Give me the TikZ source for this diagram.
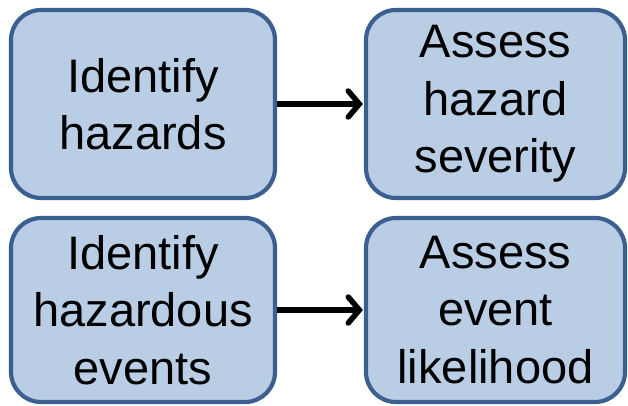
\documentclass[tikz,border=0pt]{standalone}
\usepackage{fontspec}
\setmainfont{Liberation Sans}
\usetikzlibrary{arrows.meta}
\definecolor{boxfill}{HTML}{B9CDE5}
\definecolor{boxline}{HTML}{3B5F8F}
\begin{document}
\begin{tikzpicture}[x=1pt,y=-1pt]
	\tikzstyle{every node}+=[inner sep=0pt]
	\tikzstyle{stepbox}=[draw=boxline, fill=boxfill, line width=4.2pt, rounded corners=30pt, align=center, font=\fontsize{47}{57.5}\selectfont]
	\tikzstyle{flow}=[black, line width=5.5pt, shorten >=1pt, -{Straight Barb[length=11pt,width=26pt,line cap=round]}]
	\useasboundingbox (0,0) rectangle (628,406);
	\node [stepbox, minimum width=264pt, minimum height=188pt] (haz) at (143,104) {Identify\\hazards};
	\node [stepbox, minimum width=259pt, minimum height=188pt] (sev) at (495.5,104) {Assess\\hazard\\severity};
	\node [stepbox, minimum width=264pt, minimum height=184pt] (evt) at (143,310) {Identify\\hazardous\\events};
	\node [stepbox, minimum width=259pt, minimum height=184pt] (lik) at (495.5,310) {Assess\\event\\likelihood};
	\draw [flow] (haz.east) -- (sev.west);
	\draw [flow] (evt.east) -- (lik.west);
\end{tikzpicture}
\end{document}
